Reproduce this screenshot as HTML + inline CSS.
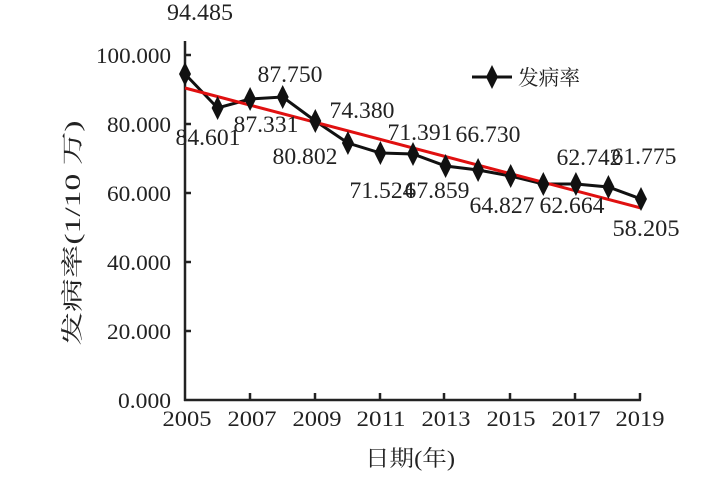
<!DOCTYPE html>
<html><head><meta charset="utf-8"><style>
body{margin:0;background:#fff}
text{font-family:"Liberation Serif","Noto Serif CJK SC",serif;fill:#222}
</style></head><body>
<svg width="727" height="477" xmlns="http://www.w3.org/2000/svg">
<g stroke="#222" stroke-width="2.5" fill="none">
<line x1="185" y1="41" x2="185" y2="401"/>
<line x1="184" y1="400" x2="641" y2="400"/>
<line x1="185" y1="55" x2="191" y2="55"/><line x1="185" y1="124" x2="191" y2="124"/><line x1="185" y1="193" x2="191" y2="193"/><line x1="185" y1="262" x2="191" y2="262"/><line x1="185" y1="331" x2="191" y2="331"/>
<line x1="250" y1="400" x2="250" y2="393"/><line x1="315" y1="400" x2="315" y2="393"/><line x1="380" y1="400" x2="380" y2="393"/><line x1="444" y1="400" x2="444" y2="393"/><line x1="510" y1="400" x2="510" y2="393"/><line x1="575" y1="400" x2="575" y2="393"/><line x1="640" y1="400" x2="640" y2="393"/>
</g>
<g font-size="22" text-anchor="end" lengthAdjust="spacingAndGlyphs">
<text x="171" y="63" textLength="75" lengthAdjust="spacingAndGlyphs">100.000</text><text x="171" y="132" textLength="64" lengthAdjust="spacingAndGlyphs">80.000</text><text x="171" y="201" textLength="64" lengthAdjust="spacingAndGlyphs">60.000</text><text x="171" y="270" textLength="64" lengthAdjust="spacingAndGlyphs">40.000</text><text x="171" y="339" textLength="64" lengthAdjust="spacingAndGlyphs">20.000</text><text x="171" y="408" textLength="53" lengthAdjust="spacingAndGlyphs">0.000</text>
</g>
<g font-size="22" text-anchor="middle">
<text x="187" y="426" textLength="49" lengthAdjust="spacingAndGlyphs">2005</text><text x="252" y="426" textLength="49" lengthAdjust="spacingAndGlyphs">2007</text><text x="317" y="426" textLength="49" lengthAdjust="spacingAndGlyphs">2009</text><text x="381" y="426" textLength="49" lengthAdjust="spacingAndGlyphs">2011</text><text x="446" y="426" textLength="49" lengthAdjust="spacingAndGlyphs">2013</text><text x="511" y="426" textLength="49" lengthAdjust="spacingAndGlyphs">2015</text><text x="576" y="426" textLength="49" lengthAdjust="spacingAndGlyphs">2017</text><text x="640" y="426" textLength="49" lengthAdjust="spacingAndGlyphs">2019</text>
<text x="410" y="466" textLength="90" lengthAdjust="spacingAndGlyphs">日期(年)</text>
</g>
<text transform="translate(80,233) rotate(-90)" font-size="22" text-anchor="middle" textLength="225" lengthAdjust="spacingAndGlyphs">发病率(1/10 万)</text>
<polyline fill="none" stroke="#111" stroke-width="3" points="185,74 217.6,108 250.1,99 282.7,97 315.3,121 347.9,143 380.4,153 413,154 445.6,166 478.1,170 510.7,176 543.3,184 575.9,184 608.4,187 641,199"/>
<line x1="185" y1="88" x2="641" y2="208" stroke="#e01010" stroke-width="3"/>
<g fill="#111">
<path d="M185,62 l6,12 l-6,12 l-6,-12z"/><path d="M217.6,96 l6,12 l-6,12 l-6,-12z"/><path d="M250.1,87 l6,12 l-6,12 l-6,-12z"/><path d="M282.7,85 l6,12 l-6,12 l-6,-12z"/><path d="M315.3,109 l6,12 l-6,12 l-6,-12z"/><path d="M347.9,131 l6,12 l-6,12 l-6,-12z"/><path d="M380.4,141 l6,12 l-6,12 l-6,-12z"/><path d="M413,142 l6,12 l-6,12 l-6,-12z"/><path d="M445.6,154 l6,12 l-6,12 l-6,-12z"/><path d="M478.1,158 l6,12 l-6,12 l-6,-12z"/><path d="M510.7,164 l6,12 l-6,12 l-6,-12z"/><path d="M543.3,172 l6,12 l-6,12 l-6,-12z"/><path d="M575.9,172 l6,12 l-6,12 l-6,-12z"/><path d="M608.4,175 l6,12 l-6,12 l-6,-12z"/><path d="M641,187 l6,12 l-6,12 l-6,-12z"/>
</g>
<g font-size="23" text-anchor="middle">
<text x="200" y="20" textLength="66" lengthAdjust="spacingAndGlyphs">94.485</text><text x="290" y="82" textLength="65" lengthAdjust="spacingAndGlyphs">87.750</text><text x="208" y="145" textLength="65" lengthAdjust="spacingAndGlyphs">84.601</text><text x="266" y="132" textLength="65" lengthAdjust="spacingAndGlyphs">87.331</text><text x="305" y="164" textLength="65" lengthAdjust="spacingAndGlyphs">80.802</text><text x="362" y="118" textLength="65" lengthAdjust="spacingAndGlyphs">74.380</text><text x="382" y="198" textLength="65" lengthAdjust="spacingAndGlyphs">71.524</text><text x="420" y="140" textLength="65" lengthAdjust="spacingAndGlyphs">71.391</text><text x="437" y="198" textLength="65" lengthAdjust="spacingAndGlyphs">67.859</text><text x="488" y="142" textLength="65" lengthAdjust="spacingAndGlyphs">66.730</text><text x="502" y="213" textLength="65" lengthAdjust="spacingAndGlyphs">64.827</text><text x="589" y="165" textLength="65" lengthAdjust="spacingAndGlyphs">62.742</text><text x="572" y="213" textLength="65" lengthAdjust="spacingAndGlyphs">62.664</text><text x="644" y="164" textLength="65" lengthAdjust="spacingAndGlyphs">61.775</text><text x="646" y="236" textLength="67" lengthAdjust="spacingAndGlyphs">58.205</text>
</g>
<line x1="472" y1="77" x2="512" y2="77" stroke="#111" stroke-width="3"/>
<path d="M492,65 l6,12 l-6,12 l-6,-12z" fill="#111"/>
<text x="518" y="85" font-size="21" textLength="62" lengthAdjust="spacingAndGlyphs">发病率</text>
</svg>
</body></html>
